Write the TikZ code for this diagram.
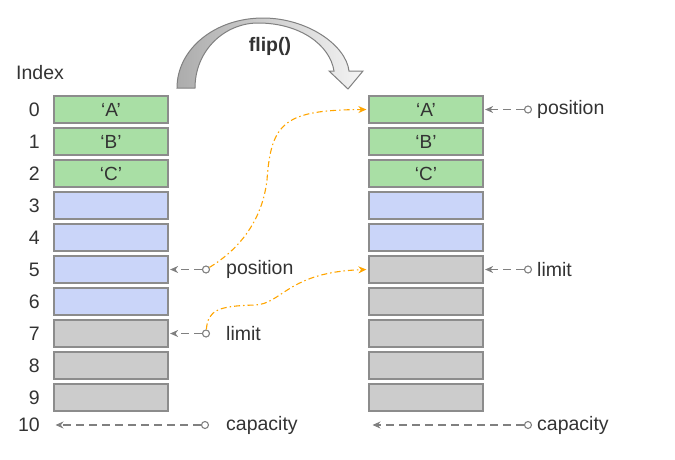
\documentclass[tikz,border=0pt]{standalone}
\usepackage{fontspec}
\setmainfont{Liberation Sans}
\usetikzlibrary{arrows.meta}
\definecolor{cgreen}{HTML}{A9DFA5}
\definecolor{cblue}{HTML}{CAD5F9}
\definecolor{cgray}{HTML}{CCCCCC}
\definecolor{cborder}{HTML}{8C8C8C}
\definecolor{ctext}{HTML}{333333}
\definecolor{cline}{HTML}{808080}
\definecolor{corange}{HTML}{FFA500}
\definecolor{cflipL}{HTML}{ACACAC}
\definecolor{cflipR}{HTML}{F4F4F4}
\begin{document}
\begin{tikzpicture}[x=1pt,y=-1pt,
 cell/.style={draw=cborder, line width=1.2pt, minimum width=114pt, minimum height=27pt, inner sep=0pt, font=\fontsize{19}{21}\selectfont, text=ctext},
 lbl/.style={font=\fontsize{19.5}{21}\selectfont, text=ctext, inner sep=0pt},
 ptr/.style={draw=cline, line width=1.3pt, dash pattern=on 8pt off 5pt, -{Stealth[length=8pt,width=7pt]}, shorten >=1.5pt},
 dot/.style={circle, draw=cline, fill=white, line width=1.1pt, minimum size=7pt, inner sep=0pt},
 flow/.style={draw=corange, line width=1.1pt, dash pattern=on 6pt off 3pt on 1.5pt off 3pt, -{Stealth[length=8pt,width=7pt]}, shorten >=2pt}]
\useasboundingbox (0,0) rectangle (675,459);
% left column
\foreach \i/\c/\t in {0/cgreen/{‘A’},1/cgreen/{‘B’},2/cgreen/{‘C’},3/cblue/{},4/cblue/{},5/cblue/{},6/cblue/{},7/cgray/{},8/cgray/{},9/cgray/{}}
 { \node[cell, fill=\c] (L\i) at (111,109.5+32*\i) {\t};
   \node[lbl, anchor=east] (n\i) at (40,109.5+32*\i) {\i}; }
% right column
\foreach \i/\c/\t in {0/cgreen/{‘A’},1/cgreen/{‘B’},2/cgreen/{‘C’},3/cblue/{},4/cblue/{},5/cgray/{},6/cgray/{},7/cgray/{},8/cgray/{},9/cgray/{}}
 { \node[cell, fill=\c] (R\i) at (426,109.5+32*\i) {\t}; }
\node[lbl, anchor=east] (n10) at (40,425) {10};
\node[lbl, anchor=west] (idx) at (16,73) {Index};
% pointer dots
\node[dot] (lpos) at (206,269.5) {};
\node[dot] (llim) at (206,333.5) {};
\node[dot] (lcap) at (205,425) {};
\node[dot] (rpos) at (528,109.5) {};
\node[dot] (rlim) at (528,269.5) {};
\node[dot] (rcap) at (528,425) {};
\coordinate (lcapend) at (54,425);
\coordinate (rcapend) at (371,425);
% pointer arrows
\draw[ptr] (lpos) -- (L5.east);
\draw[ptr] (llim) -- (L7.east);
\draw[ptr] (lcap) -- (lcapend);
\draw[ptr] (rpos) -- (R0.east);
\draw[ptr] (rlim) -- (R5.east);
\draw[ptr] (rcap) -- (rcapend);
% labels
\node[lbl, anchor=west] (tlpos) at (226,269.5) {position};
\node[lbl, anchor=west] (tllim) at (226,333.5) {limit};
\node[lbl, anchor=west] (tlcap) at (226,425) {capacity};
\node[lbl, anchor=west] (trpos) at (537,109.5) {position};
\node[lbl, anchor=west] (trlim) at (537,269.5) {limit};
\node[lbl, anchor=west] (trcap) at (537,425) {capacity};
% orange flows
\draw[flow] (lpos) .. controls (238,250) and (262,222) .. (267,180) .. controls (271,122) and (285,110) .. (R0.west);
\draw[flow] (llim) .. controls (208,310) and (218,306) .. (255,305) .. controls (282,304) and (288,272) .. (R5.west);
% flip arrow
\path[draw=cline, line width=1pt, left color=cflipL, right color=cflipR]
  (177,88) .. controls (177,49) and (215,18) .. (263,18)
  .. controls (307,18) and (346,45) .. (349,71)
  -- (363,71) -- (348,89) -- (329,71) -- (334,71)
  .. controls (330,45) and (300,23) .. (258,23)
  .. controls (225,23) and (195,50) .. (195,88) -- cycle;
\node[lbl, font=\fontsize{19.5}{21}\selectfont\bfseries] (flip) at (270,46) {flip()};
\end{tikzpicture}
\end{document}
